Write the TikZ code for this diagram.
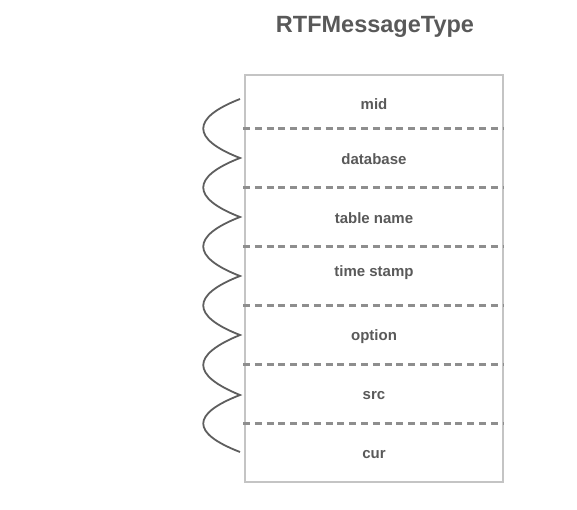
\documentclass[tikz,border=0pt]{standalone}
\usepackage{fontspec}
\setmainfont{Liberation Sans}
\definecolor{boxgray}{HTML}{C4C4C4}
\definecolor{dashgray}{HTML}{8E8E8E}
\definecolor{txtgray}{HTML}{595959}
\definecolor{wavegray}{HTML}{5E5E5E}
\begin{document}
\begin{tikzpicture}[x=1pt,y=-1pt,
  frame/.style={draw=boxgray,line width=1.8pt,minimum width=258pt,minimum height=407pt,inner sep=0pt},
  field/.style={text=txtgray,font=\fontsize{15}{18}\selectfont\bfseries,inner sep=0pt},
  sep/.style={draw=dashgray,line width=3pt,dash pattern=on 7pt off 4.8pt},
  wave/.style={draw=wavegray,line width=1.8pt}]
\useasboundingbox (0,0) rectangle (577,509);
\node[text=txtgray,font=\fontsize{23.5}{28}\selectfont\bfseries] (title) at (375,27) {RTFMessageType};
\node[frame] (box) at (374,278.5) {};
\foreach \n/\t/\y in {mid/mid/104,db/database/159,tn/table name/218,ts/time stamp/273,op/option/337,src/src/396,cur/cur/455}
  \node[field] (\n) at (374,\y) {\t};
\foreach \i/\y in {1/128,2/187,3/246,4/305,5/364,6/423}{
  \coordinate (sl\i) at (243,\y);
  \coordinate (sr\i) at (503,\y);
  \draw[sep] (sl\i) -- (sr\i);
}
\foreach \i/\y in {0/99,1/158,2/217,3/276,4/335,5/395,6/452}
  \coordinate (w\i) at (240,\y);
\draw[wave] (w0) .. controls (191,118) and (191,139) .. (w1)
  .. controls (191,177) and (191,198) .. (w2)
  .. controls (191,236) and (191,257) .. (w3)
  .. controls (191,295) and (191,316) .. (w4)
  .. controls (191,355) and (191,375) .. (w5)
  .. controls (191,414) and (191,433) .. (w6);
\end{tikzpicture}
\end{document}
